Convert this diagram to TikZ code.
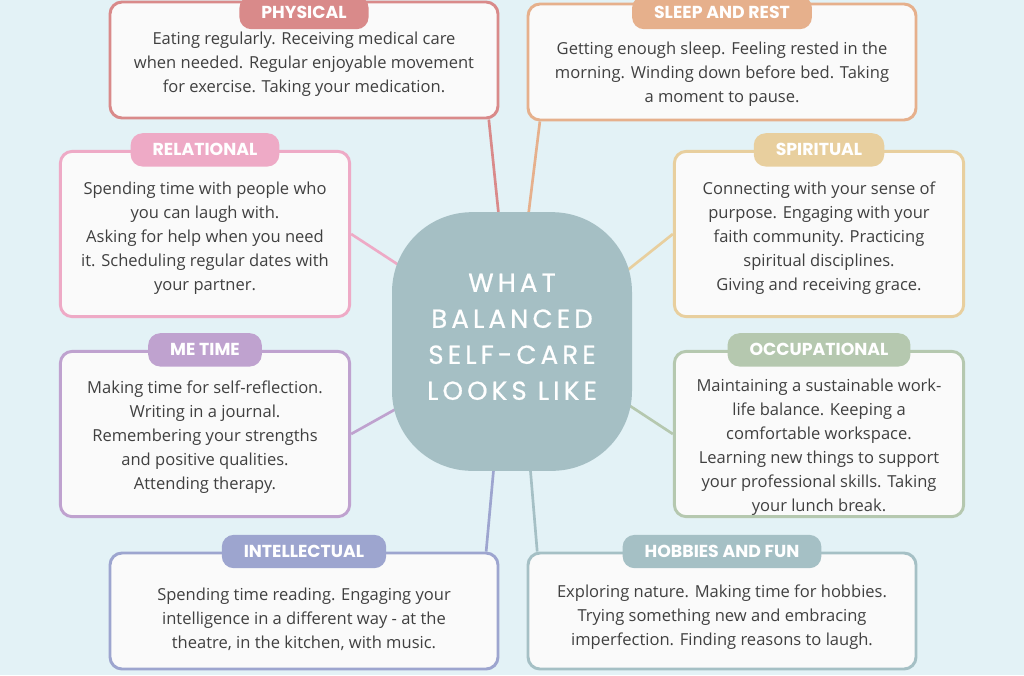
\documentclass[tikz,border=0pt]{standalone}
\usepackage{fontspec}
\setmainfont{Open Sans}
\newfontfamily\headfont{Poppins}
\usetikzlibrary{positioning}
\definecolor{pagebg}{HTML}{E3F2F6}
\definecolor{cardbg}{HTML}{FAFAFA}
\definecolor{bodytext}{HTML}{404040}
\definecolor{cPhys}{HTML}{D98A8A}
\definecolor{cSleep}{HTML}{E6B08C}
\definecolor{cRel}{HTML}{EEAAC6}
\definecolor{cSpi}{HTML}{E8CF9E}
\definecolor{cMe}{HTML}{BFA2CF}
\definecolor{cOcc}{HTML}{B5C8AF}
\definecolor{cInt}{HTML}{9DA5CF}
\definecolor{cHob}{HTML}{A5C0C5}
\definecolor{cHub}{HTML}{A5BFC4}
\pgfdeclarelayer{bg}
\pgfdeclarelayer{wires}
\pgfsetlayers{bg,wires,main}

\begin{document}
\begin{tikzpicture}[
          x=0.75pt, y=-0.75pt,
          every node/.style={font=\fontsize{12.4}{18}\selectfont},
          card/.style={draw=#1, line width=2.2pt, fill=cardbg, rounded corners=9pt},
          wide/.style={minimum width=291pt, minimum height=87pt},
          side/.style={minimum width=217pt, minimum height=124pt},
          pill/.style={fill=#1, rounded corners=9pt, minimum height=25pt, inner xsep=16.5pt,
                       text=white, font=\headfont\bfseries\fontsize{13}{15}\selectfont},
          body/.style={align=center, inner sep=0pt, text=bodytext},
          link/.style={draw=#1, line width=2pt},
          hub/.style={fill=cHub, rounded corners=60pt, minimum width=180pt, minimum height=194pt},
          title/.style={align=center, inner sep=0pt, text=white,
                      font=\headfont\addfontfeatures{LetterSpace=16,FakeBold=0.7}\fontsize{19.5}{27}\selectfont}
      ]
        \useasboundingbox (0,0) rectangle (1024,675);
        \begin{pgfonlayer}{bg}
          \fill[pagebg] (0,0) rectangle (1024,675);
        \end{pgfonlayer}

        % centre
        \node[hub] (hub) at (512,341.5) {};
        \node[title] (hubT) at ([yshift=3.5pt]hub.center) {WHAT\\BALANCED\\SELF-CARE\\LOOKS LIKE};

        % cards
        \node[card=cPhys, wide] (phys) at (304,60) {};
        \node[card=cSleep, wide] (sleep) at (722,62) {};
        \node[card=cRel, side] (rel) at (205,234) {};
        \node[card=cSpi, side] (spi) at (819,234) {};
        \node[card=cMe, side] (me) at (205,434) {};
        \node[card=cOcc, side] (occ) at (819,434) {};
        \node[card=cInt, wide] (int) at (304,611) {};
        \node[card=cHob, wide] (hob) at (722,611) {};

        % headings
        \node[pill=cPhys] (physP) at ([yshift=-9pt]phys.north) {PHYSICAL};
        \node[pill=cSleep] (sleepP) at ([yshift=-7.5pt]sleep.north) {SLEEP AND REST};
        \node[pill=cRel] (relP) at (rel.north) {RELATIONAL};
        \node[pill=cSpi] (spiP) at (spi.north) {SPIRITUAL};
        \node[pill=cMe] (meP) at (me.north) {ME TIME};
        \node[pill=cOcc] (occP) at (occ.north) {OCCUPATIONAL};
        \node[pill=cInt] (intP) at (int.north) {INTELLECTUAL};
        \node[pill=cHob] (hobP) at (hob.north) {HOBBIES AND FUN};

        % texts
        \node[body] (physT) at ([yshift=-3.5pt]phys.center) {Eating regularly. Receiving medical care\\when needed. Regular enjoyable movement\\for exercise. Taking your medication.};
        \node[body] (sleepT) at ([yshift=-9pt]sleep.center) {Getting enough sleep. Feeling rested in the\\morning. Winding down before bed. Taking\\a moment to pause.};
        \node[body] (relT) at ([yshift=-3pt]rel.center) {Spending time with people who\\you can laugh with.\\Asking for help when you need\\it. Scheduling regular dates with\\your partner.};
        \node[body] (spiT) at ([yshift=-3pt]spi.center) {Connecting with your sense of\\purpose. Engaging with your\\faith community. Practicing\\spiritual disciplines.\\Giving and receiving grace.};
        \node[body] (meT) at ([yshift=-2.5pt]me.center) {Making time for self-reflection.\\Writing in a journal.\\Remembering your strengths\\and positive qualities.\\Attending therapy.};
        \node[body] (occT) at ([yshift=-10pt]occ.center) {Maintaining a sustainable work-\\life balance. Keeping a\\comfortable workspace.\\Learning new things to support\\your professional skills. Taking\\your lunch break.};
        \node[body] (intT) at ([yshift=-6pt]int.center) {Spending time reading. Engaging your\\intelligence in a different way - at the\\theatre, in the kitchen, with music.};
        \node[body] (hobT) at ([yshift=-4.5pt]hob.center) {Exploring nature. Making time for hobbies.\\Trying something new and embracing\\imperfection. Finding reasons to laugh.};

        % connectors
        \begin{pgfonlayer}{wires}
          \draw[link=cPhys] ([xshift=-8pt]phys.south east) -- ([shift={(-13,6)}]hub.north);
          \draw[link=cSleep] ([xshift=10pt]sleep.south west) -- ([shift={(16,6)}]hub.north);
          \draw[link=cRel] (rel.east) -- ([shift={(20,-68)}]hub.west);
          \draw[link=cSpi] (spi.west) -- ([shift={(-14,-64)}]hub.east);
          \draw[link=cMe] (me.east) -- ([shift={(14,62)}]hub.west);
          \draw[link=cOcc] (occ.west) -- ([shift={(-12,58)}]hub.east);
          \draw[link=cInt] ([shift={(-18,-6)}]hub.south) -- ([xshift=-10pt]int.north east);
          \draw[link=cHob] ([shift={(18,-6)}]hub.south) -- ([xshift=8pt]hob.north west);
        \end{pgfonlayer}
      \end{tikzpicture}
\end{document}
